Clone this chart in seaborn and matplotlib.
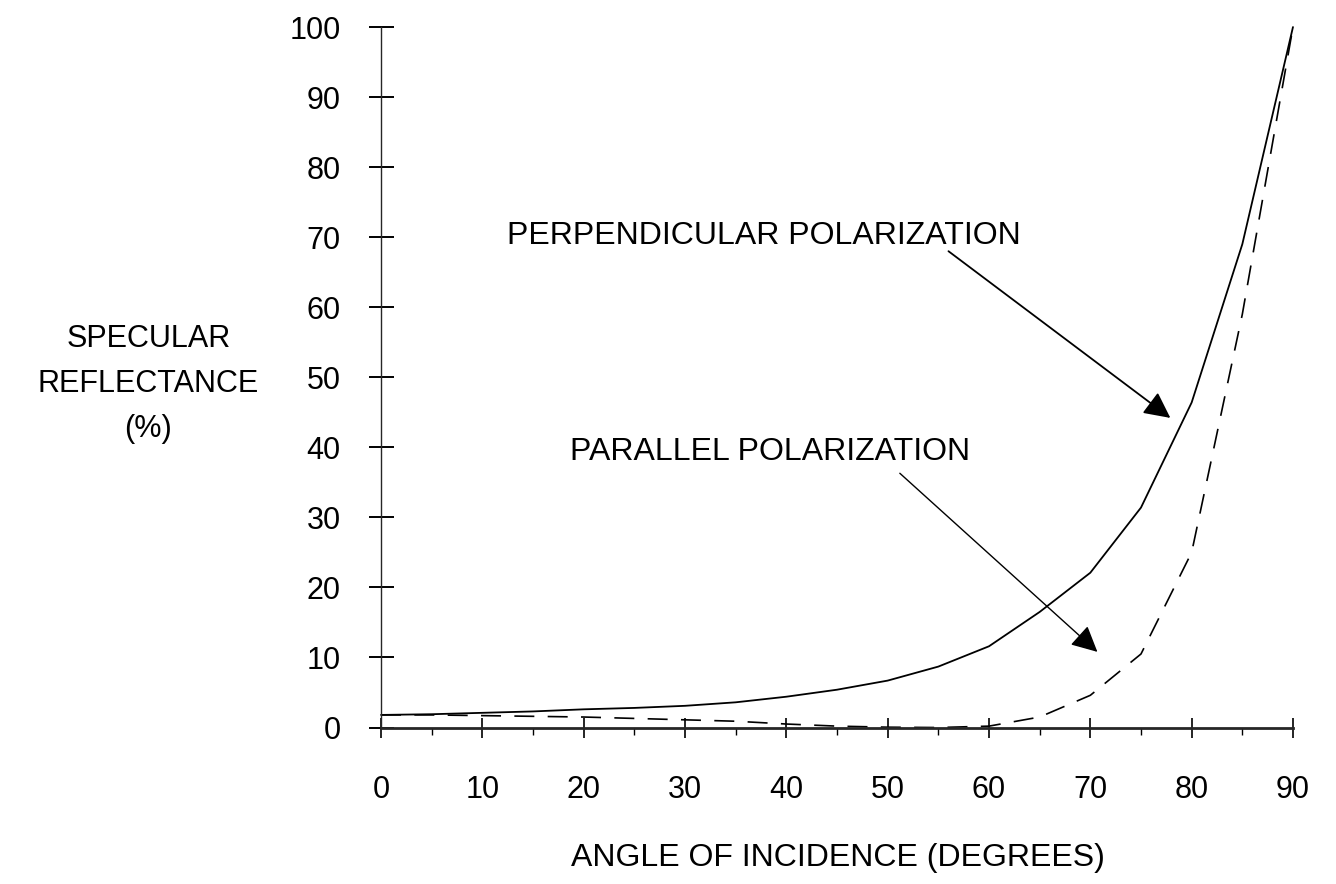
import matplotlib
matplotlib.use("Agg")
import matplotlib.pyplot as plt
import pandas as pd
import seaborn as sns

# values (percent reflectance vs angle)
angles = [0, 5, 10, 15, 20, 25, 30, 35, 40, 45, 50, 55, 60, 65, 70, 75, 80, 85, 90]
perpendicular = [1.8, 1.9, 2.1, 2.3, 2.6, 2.8, 3.1, 3.6, 4.4, 5.4, 6.7, 8.7,
                 11.6, 16.5, 22.1, 31.4, 46.4, 69.0, 100.0]
parallel = [1.8, 1.8, 1.7, 1.6, 1.5, 1.3, 1.1, 0.9, 0.5, 0.2, 0.05, 0.0,
            0.2, 1.5, 4.6, 10.5, 25.0, 59.0, 100.0]

x_ticks = list(range(0, 91, 10))
y_ticks = list(range(0, 101, 10))

df = pd.DataFrame({
    "Angle": angles,
    "Perpendicular": perpendicular,
    "Parallel": parallel
})

sns.set_theme(style="ticks")
plt.rcParams['font.family'] = ['Liberation Sans', 'DejaVu Sans']

fig = plt.figure(figsize=(13.36, 8.84), dpi=100)
ax = fig.add_axes([0.2852, 0.1770, 0.6826, 0.7924])

sns.lineplot(data=df, x="Angle", y="Perpendicular", color="black",
             linewidth=1.3, ax=ax, clip_on=False)
sns.lineplot(data=df, x="Angle", y="Parallel", color="black",
             linewidth=1.2, linestyle=(0, (12, 8)), ax=ax, clip_on=False)

ax.set_xlim(0, 90)
ax.set_ylim(0, 100)
ax.set_xticks(x_ticks)
ax.set_xticks(list(range(5, 90, 10)), minor=True)
ax.set_yticks(y_ticks)

sns.despine(ax=ax)
ax.spines['bottom'].set_linewidth(2.0)
ax.spines['left'].set_linewidth(1.0)
ax.tick_params(axis='x', which='major', direction='inout', length=14,
               width=1.2, colors='black', labelsize=22, pad=27)
ax.tick_params(axis='x', which='minor', direction='out', length=5,
               width=1.0, colors='black')
ax.tick_params(axis='y', direction='inout', length=18, width=1.4,
               colors='black', labelsize=22, pad=20)

ax.set_xlabel("ANGLE OF INCIDENCE (DEGREES)", fontsize=23, color='black')
ax.xaxis.set_label_coords(0.501, -0.186)
ax.xaxis.label.set_va('center')
ax.set_ylabel("SPECULAR\nREFLECTANCE\n(%)", fontsize=22, color='black',
              rotation=0, ha='center', va='center', linespacing=1.65)
ax.yaxis.set_label_coords(-0.255, 0.49)

ax.text(12.4, 70.2, "PERPENDICULAR POLARIZATION", fontsize=23,
        va='center', ha='left', color='black')
ax.annotate("", xy=(77.9, 44.2), xytext=(56.0, 68.0),
            arrowprops=dict(arrowstyle='-|>', mutation_scale=40,
                            color='black', lw=1.3, shrinkA=0, shrinkB=0))
ax.text(18.65, 39.3, "PARALLEL POLARIZATION", fontsize=23,
        va='center', ha='left', color='black')
ax.annotate("", xy=(70.7, 10.8), xytext=(51.2, 36.3),
            arrowprops=dict(arrowstyle='-|>', mutation_scale=40,
                            color='black', lw=1.0, shrinkA=0, shrinkB=0))

fig.savefig("out.png", dpi=100, facecolor='white')
